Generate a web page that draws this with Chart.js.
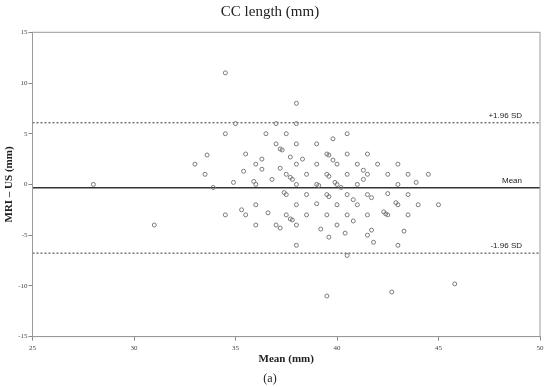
<!DOCTYPE html>
<html>
<head>
<meta charset="utf-8">
<script src="https://cdn.jsdelivr.net/npm/chart.js@4"></script>
<style>
  html, body { margin: 0; padding: 0; background: #fff; }
  canvas { display: block; }
</style>
</head>
<body>
<canvas id="c" width="550" height="387"></canvas>
<script>
// Mean of the two measurements (mm)
const meanMM = [
  28, 31, 33.0, 33.5, 33.6, 33.9, 34.5, 34.5, 34.9, 34.5, 35.0, 35.3, 35.4, 35.5, 35.5, 35.9, 36.0, 36.0, 36.0, 36.0,
  38, 37, 38, 36.5, 37.5, 40.5, 39.8, 37, 38, 39, 37.2, 37.3, 39.5, 39.6, 40.5, 41.5, 37.7, 38.3, 36.3, 39.8,
  38, 39, 40, 41, 36.3, 37.2, 41.3, 37.5, 38.5, 39.5, 39.6, 40.5, 41.5, 37.7, 37.8, 36.8, 41.3, 38, 39, 39.1,
  39.9, 40.0, 40.2, 41, 37.4, 37.5, 38.5, 39.5, 39.6, 40.5, 41.5, 41.7, 40.8, 38, 39, 40, 41, 36.6, 37.5, 37.7,
  37.8, 38.5, 39.5, 40.5, 41.5, 40.8, 37, 37.2, 38, 40, 39.2, 40.4, 41.5, 41.7, 39.6, 41.8, 38, 40.5, 39.5,
  42, 43, 42.5, 43.5, 44.5, 43, 43.9, 42.5, 43.5, 42.9, 43, 44, 45, 42.3, 42.4, 42.5, 43.5, 43.3, 43, 45.8, 42.7
];
// Difference MRI - US (mm)
const diffMM = [
  0, -4, 2.0, 1.0, 2.9, -0.3, 11, 5, 0.2, -3, 6.0, -2.5, 1.3, 3, -3, 0.3, 2, 0, -2, -4,
  8, 6, 6, 5, 5, 5, 4.5, 4, 4, 4, 3.5, 3.4, 3, 2.9, 3, 3, 2.7, 2.5, 2.5, 2.4,
  2, 2, 2, 2, 1.5, 1.6, 1.4, 1, 1, 1, 0.8, 1, 1, 0.7, 0.5, 0.5, 0.5, 0, 0, -0.1,
  0.2, 0, -0.3, 0, -0.8, -1, -1, -1, -1.2, -1, -1, -1.3, -1.5, -2, -1.9, -2, -2, -2.8, -3, -3.4,
  -3.5, -3, -3, -3, -3, -3.6, -4, -4.3, -4, -4, -4.4, -4.8, -5, -4.5, -5.2, -5.7, -6, -7, -11,
  2, 2, 1, 1, 1, 0, 0.2, -0.9, -1, -1.8, -2, -2, -2, -2.7, -2.9, -3, -3, -4.6, -6, -9.8, -10.6
];
// Bias and limits of agreement
const meanDiff = -0.33;
const upperLoA = 6.08;
const lowerLoA = -6.77;
const limitLabels = ['+1.96 SD', 'Mean', '-1.96 SD'];
const limitValues = [upperLoA, meanDiff, lowerLoA];
const xRange = [25, 50];
const yRange = [-15, 15];

const points = meanMM.map((m, i) => ({ x: m, y: diffMM[i] }));
const lineData = v => xRange.map(x => ({ x: x, y: v }));

const annot = {
  id: 'annot',
  afterDatasetsDraw(chart) {
    const { ctx, chartArea: a, scales: { x, y } } = chart;
    ctx.save();
    ctx.strokeStyle = '#9a9a9a';
    ctx.lineWidth = 1;
    ctx.strokeRect(a.left, a.top, a.right - a.left, a.bottom - a.top);
    ctx.font = '8px "Liberation Sans", Arial, sans-serif';
    ctx.fillStyle = '#222';
    ctx.textAlign = 'right';
    ctx.textBaseline = 'bottom';
    const xr = x.getPixelForValue(xRange[1]) - 18;
    limitLabels.forEach((t, i) => ctx.fillText(t, xr, y.getPixelForValue(limitValues[i]) - 3));
    ctx.restore();
  }
};

const serif = '"Liberation Serif", "Times New Roman", serif';

new Chart(document.getElementById('c'), {
  type: 'scatter',
  data: {
    datasets: [
      {
        data: points,
        pointStyle: 'circle',
        pointRadius: 2,
        pointBorderWidth: 1,
        borderColor: '#7a7a7a',
        backgroundColor: 'rgba(255,255,255,0)',
        order: 0
      },
      {
        type: 'line', data: lineData(meanDiff), borderColor: '#333', borderWidth: 1.5,
        pointRadius: 0, fill: false, order: 1
      },
      {
        type: 'line', data: lineData(upperLoA), borderColor: '#333', borderWidth: 1,
        borderDash: [2, 2], pointRadius: 0, fill: false, order: 1
      },
      {
        type: 'line', data: lineData(lowerLoA), borderColor: '#333', borderWidth: 1,
        borderDash: [2, 2], pointRadius: 0, fill: false, order: 1
      }
    ]
  },
  options: {
    responsive: false,
    animation: false,
    events: [],
    layout: { padding: { left: 0, right: 10, top: 0, bottom: 0 } },
    plugins: {
      legend: { display: false },
      tooltip: { enabled: false },
      title: {
        display: true,
        text: 'CC length (mm)',
        color: '#222',
        font: { family: serif, size: 15, weight: 'normal' },
        padding: { top: 3, bottom: 11.3 }
      },
      subtitle: {
        display: true,
        position: 'bottom',
        text: '(a)',
        color: '#222',
        font: { family: serif, size: 12, weight: 'normal' },
        padding: { top: 2, bottom: 1 }
      }
    },
    scales: {
      x: {
        type: 'linear',
        min: xRange[0], max: xRange[1],
        afterFit(s) { s.height = 33; },
        ticks: { stepSize: 5, color: '#444', padding: 3, font: { family: serif, size: 7 } },
        grid: { drawOnChartArea: false, drawTicks: true, tickLength: 4, color: '#888' },
        border: { display: true, color: '#999' },
        title: {
          display: true, text: 'Mean (mm)', color: '#222',
          font: { family: serif, size: 11, weight: 'bold' },
          padding: { top: 0, bottom: 4 }
        }
      },
      y: {
        type: 'linear',
        min: yRange[0], max: yRange[1],
        afterFit(s) { s.width = 32.5; },
        ticks: { stepSize: 5, color: '#444', padding: 1, font: { family: serif, size: 7 } },
        grid: { drawOnChartArea: false, drawTicks: true, tickLength: 4, color: '#888' },
        border: { display: true, color: '#999' },
        title: {
          display: true, text: 'MRI – US (mm)', color: '#222',
          font: { family: serif, size: 11, weight: 'bold' },
          padding: { top: 3, bottom: 0 }
        }
      }
    }
  },
  plugins: [annot]
});
</script>
</body>
</html>
